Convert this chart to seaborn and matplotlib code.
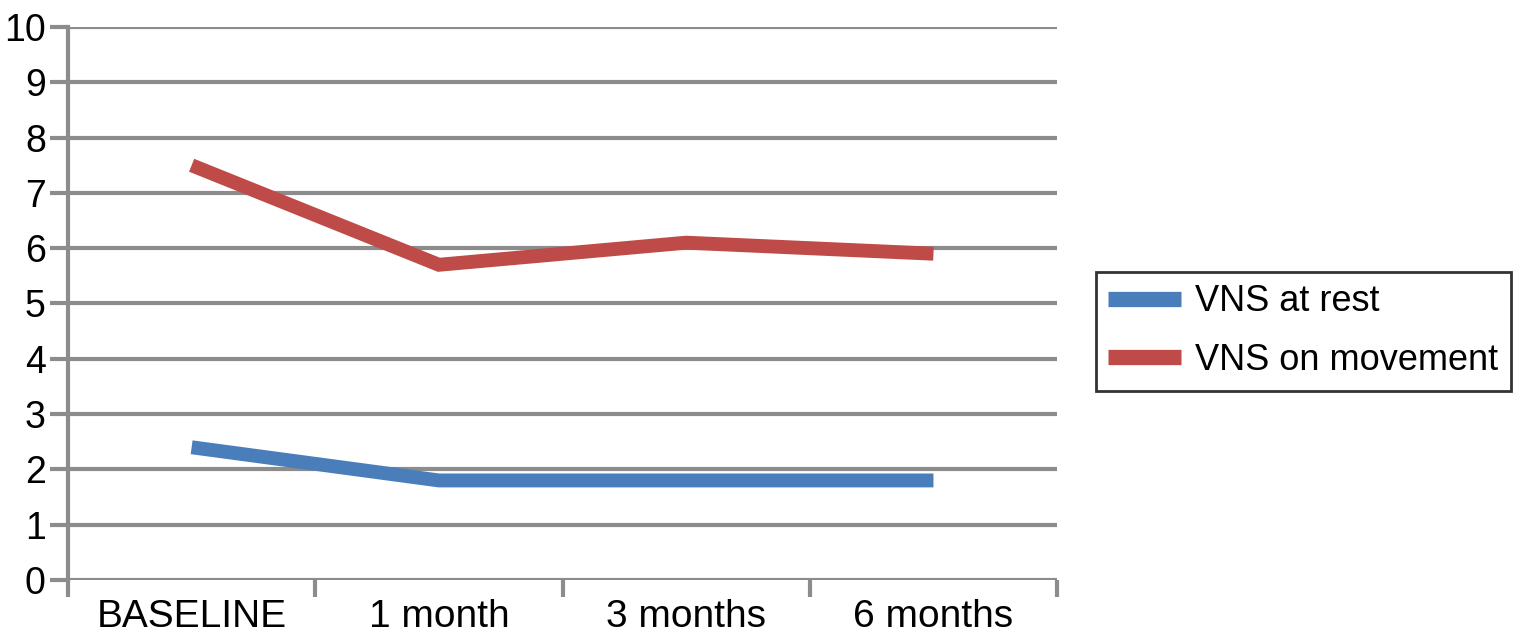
import numpy as np
import pandas as pd
import matplotlib.pyplot as plt
import seaborn as sns

# 값
periods = ['BASELINE', '1 month', '3 months', '6 months']
vns_rest = [2.4, 1.8, 1.8, 1.8]
vns_move = [7.5, 5.7, 6.1, 5.9]
series_names = ['VNS at rest', 'VNS on movement']
colors = ['#4a7ebb', '#be4b48']
grid_gray = '#8c8c8c'

df = pd.DataFrame({
    'period': periods * 2,
    'value': vns_rest + vns_move,
    'series': [series_names[0]] * 4 + [series_names[1]] * 4,
})
df['pos'] = df['period'].map({p: i for i, p in enumerate(periods)})

sns.set_style('white')
plt.rcParams['font.family'] = ['Liberation Sans', 'DejaVu Sans']
plt.rcParams['text.color'] = 'black'
plt.rcParams['xtick.color'] = 'black'
plt.rcParams['ytick.color'] = 'black'

fig = plt.figure(figsize=(15.21, 6.43), dpi=100)
ax = fig.add_axes([0.0447, 0.098, 0.6503, 0.86])

sns.lineplot(data=df, x='pos', y='value', hue='series', palette=colors,
             linewidth=10, sort=False, ax=ax, legend=True,
             solid_capstyle='butt', solid_joinstyle='miter')

ax.set_xlim(-0.5, 3.5)
ax.set_ylim(0, 10)
ax.set_yticks(range(0, 11))
ax.set_xticks(range(4))
ax.set_xticklabels(periods)
ax.set_xticks(np.arange(-0.5, 4, 1), minor=True)
ax.set(xlabel='', ylabel='')

ax.grid(axis='y', color=grid_gray, linewidth=3, zorder=0)
ax.set_axisbelow(True)
for s in ['top', 'right', 'bottom']:
    ax.spines[s].set_visible(False)
ax.spines['left'].set_color(grid_gray)
ax.spines['left'].set_linewidth(3)

ax.tick_params(axis='y', left=True, length=13, width=3, color=grid_gray,
               labelcolor='black', labelsize=27, pad=3)
ax.tick_params(axis='x', which='major', bottom=True, length=0,
               labelcolor='black', labelsize=28, pad=14)
ax.tick_params(axis='x', which='minor', bottom=True, length=12, width=3,
               color=grid_gray, direction='out')

leg = ax.legend(loc='center left', bbox_to_anchor=(1.039, 0.45), frameon=True,
                fontsize=26, handlelength=2.0, handletextpad=0.4,
                borderpad=0.35, labelspacing=0.65, borderaxespad=0,
                fancybox=False)
leg.get_frame().set_edgecolor('black')
leg.get_frame().set_linewidth(2)
for h in leg.get_lines():
    h.set_linewidth(11)
    h.set_solid_capstyle('butt')

fig.savefig('out.png', dpi=100)
